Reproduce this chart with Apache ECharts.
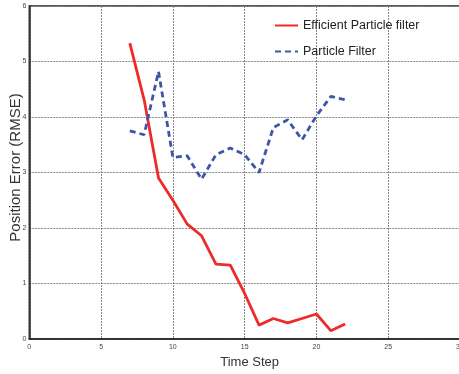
<!DOCTYPE html>
<html><head><meta charset="utf-8">
<style>html,body{margin:0;padding:0;background:#fff}#c{width:459px;height:374px}</style>
<script src="https://cdn.jsdelivr.net/npm/echarts@6/dist/echarts.min.js"></script>
</head><body><div id="c"></div>
<script>
const timeSteps = [7,8,9,10,11,12,13,14,15,16,17,18,19,20,21,22];
const efficientPF = [5.33,4.31,2.90,2.50,2.07,1.86,1.35,1.33,0.82,0.25,0.37,0.29,0.37,0.45,0.15,0.27];
const particleFilter = [3.75,3.68,4.82,3.27,3.30,2.88,3.32,3.44,3.32,3.00,3.81,3.95,3.59,4.02,4.37,4.31];
const seriesNames = ['Efficient Particle filter','Particle Filter'];
const xTitle = 'Time Step';
const yTitle = 'Position Error (RMSE)';

const font = '"Liberation Sans",Arial,sans-serif';
const chart = echarts.init(document.getElementById('c'));
chart.setOption({
  animation:false,
  backgroundColor:'#fff',
  grid:{left:29.3,right:-1,top:6,bottom:35,containLabel:false,outerBoundsMode:'none',
    show:true,borderColor:'#222',borderWidth:1.5,backgroundColor:'transparent'},
  legend:{orient:'vertical',left:274,top:19,padding:0,itemWidth:23,itemHeight:14,itemGap:13,
    itemStyle:{opacity:0},
    textStyle:{fontFamily:font,fontSize:12.5,color:'#222'},
    data:seriesNames},
  xAxis:{type:'value',min:0,max:30,interval:5,
    name:xTitle,nameLocation:'middle',nameGap:17,nameMoveOverlap:false,
    nameTextStyle:{fontFamily:font,fontSize:13,color:'#333',padding:[0,0,0,10]},
    axisLine:{show:true,lineStyle:{color:'#222',width:1.5}},
    axisTick:{show:false},
    axisLabel:{fontSize:7,color:'#444',margin:5,fontFamily:font},
    splitLine:{show:true,lineStyle:{color:'#888',type:[2,1],width:1}}},
  yAxis:{type:'value',min:0,max:6,interval:1,
    name:yTitle,nameLocation:'middle',nameGap:6,nameMoveOverlap:false,
    nameTextStyle:{fontFamily:font,fontSize:15,color:'#333',padding:[0,0,0,10]},
    axisLine:{show:true,lineStyle:{color:'#222',width:1.5}},
    axisTick:{show:false},
    axisLabel:{fontSize:7,color:'#444',margin:3,fontFamily:font},
    splitLine:{show:true,lineStyle:{color:'#888',type:[2,1],width:1}}},
  series:[
    {name:seriesNames[0],type:'line',symbol:'none',data:timeSteps.map((t,i)=>[t,efficientPF[i]]),
      lineStyle:{color:'#ee2a2a',width:2.8},itemStyle:{color:'#ee2a2a'}},
    {name:seriesNames[1],type:'line',symbol:'none',data:timeSteps.map((t,i)=>[t,particleFilter[i]]),
      lineStyle:{color:'#3c56a8',width:2.8,type:[6,4]},itemStyle:{color:'#3c56a8'}}
  ]
});
</script></body></html>
